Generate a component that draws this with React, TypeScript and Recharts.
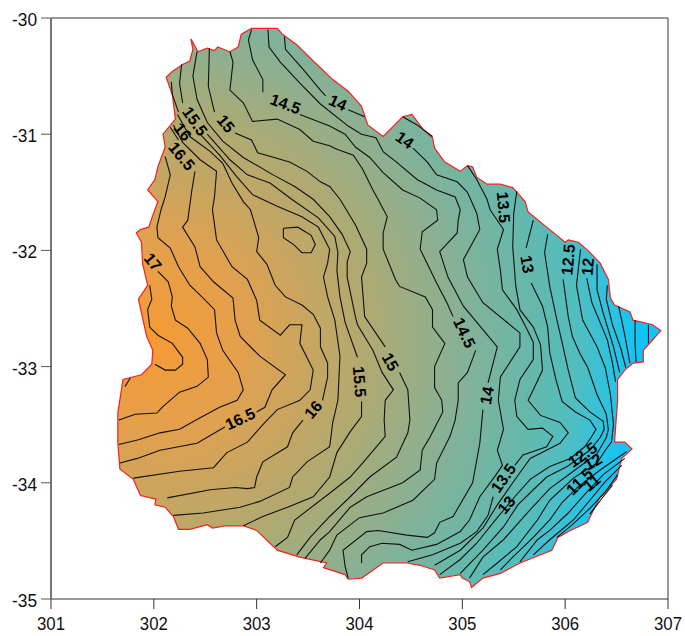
import { ScatterChart, Scatter, XAxis, YAxis } from "recharts";

type Pt = [number, number];

const lonTicks = [301, 302, 303, 304, 305, 306, 307];
const latTicks = [-30, -31, -32, -33, -34, -35];

// country outline, clockwise from the northwest tip
const outline: Pt[] = [
  [302.36, -30.18], [302.43, -30.29], [302.52, -30.26], [302.59, -30.28], [302.62, -30.25], [302.74, -30.29],
  [302.82, -30.25], [302.85, -30.14], [302.95, -30.09], [303.11, -30.09], [303.2, -30.09], [303.25, -30.14],
  [303.39, -30.23], [303.55, -30.37], [303.74, -30.53], [303.89, -30.63], [304.02, -30.76], [304.08, -30.92],
  [304.23, -31.02], [304.33, -30.93], [304.42, -30.85], [304.51, -30.83], [304.62, -30.96], [304.71, -31.03],
  [304.73, -31.12], [304.83, -31.24], [304.98, -31.32], [305.05, -31.27], [305.1, -31.28], [305.14, -31.37],
  [305.24, -31.43], [305.37, -31.43], [305.49, -31.46], [305.61, -31.58], [305.64, -31.67], [305.82, -31.8],
  [306.0, -31.93], [306.03, -31.91], [306.13, -31.93], [306.22, -32.0], [306.34, -32.11], [306.42, -32.25],
  [306.44, -32.41], [306.48, -32.47], [306.63, -32.53], [306.66, -32.6], [306.85, -32.64], [306.93, -32.69],
  [306.81, -32.81], [306.76, -32.86], [306.76, -32.96], [306.66, -32.97], [306.58, -33.03], [306.51, -33.11],
  [306.51, -33.29], [306.48, -33.65], [306.58, -33.65], [306.65, -33.71], [306.55, -33.79], [306.5, -33.97],
  [306.34, -34.12], [306.25, -34.28], [306.22, -34.34], [306.05, -34.41], [305.93, -34.47], [305.87, -34.58],
  [305.56, -34.69], [305.37, -34.78], [305.2, -34.82], [305.09, -34.9], [305.07, -34.85], [305.0, -34.82],
  [304.98, -34.79], [304.78, -34.82], [304.73, -34.75], [304.59, -34.71], [304.46, -34.69], [304.23, -34.69],
  [304.02, -34.82], [303.89, -34.83], [303.86, -34.79], [303.65, -34.73], [303.68, -34.69], [303.42, -34.64],
  [303.2, -34.58], [303.0, -34.41], [302.87, -34.37], [302.69, -34.37], [302.57, -34.39], [302.52, -34.36],
  [302.35, -34.4], [302.24, -34.4], [302.19, -34.29], [302.11, -34.21], [302.01, -34.19], [302.02, -34.14],
  [301.87, -34.11], [301.8, -33.97], [301.67, -33.88], [301.65, -33.66], [301.65, -33.4], [301.7, -33.11],
  [301.88, -33.07], [301.98, -32.98], [301.99, -32.86], [301.93, -32.74], [301.88, -32.54], [301.85, -32.42],
  [301.94, -32.3], [301.89, -32.11], [301.88, -31.93], [301.83, -31.85], [301.87, -31.82], [301.95, -31.8],
  [302.01, -31.65], [302.04, -31.58], [301.94, -31.48], [302.01, -31.39], [302.04, -31.28], [302.11, -31.11],
  [302.09, -31.0], [302.21, -30.87], [302.18, -30.66], [302.12, -30.51], [302.18, -30.46], [302.28, -30.4],
  [302.35, -30.37], [302.38, -30.27], [302.36, -30.18],
];

// closed ring north of the interior, around 303.4 / -31.85
const ringNorth: Pt[] = [
  [303.26, -31.81], [303.4, -31.8], [303.53, -31.87], [303.57, -31.95], [303.53, -32.02], [303.44, -32.02],
  [303.36, -31.95], [303.26, -31.89], [303.26, -31.81],
];

const west17Inner: Pt[] = [
  [301.96, -32.3], [301.98, -32.42], [301.94, -32.51], [301.96, -32.66], [302.04, -32.73], [302.18, -32.8],
  [302.28, -32.92], [302.28, -32.98], [302.21, -33.03], [302.11, -33.03], [302.01, -32.98],
];
const west17: Pt[] = [
  [302.04, -32.18], [302.14, -32.27], [302.18, -32.4], [302.17, -32.48], [302.21, -32.6], [302.33, -32.67],
  [302.45, -32.8], [302.52, -32.94], [302.53, -33.09], [302.42, -33.17], [302.25, -33.22], [302.08, -33.35],
  [302.03, -33.4], [301.82, -33.41], [301.66, -33.46],
];
const westCorner: Pt[] = [[301.77, -33.1], [301.72, -33.17]];
const west168: Pt[] = [
  [302.11, -31.19], [302.16, -31.35], [302.11, -31.54], [302.07, -31.65], [302.03, -31.8], [302.04, -31.89],
  [302.16, -31.98], [302.24, -32.14], [302.35, -32.3], [302.48, -32.41], [302.59, -32.51], [302.61, -32.71],
  [302.67, -32.86], [302.82, -33.05], [302.87, -33.2], [302.81, -33.29], [302.64, -33.35], [302.45, -33.44],
  [302.25, -33.54], [302.06, -33.57], [301.85, -33.63], [301.66, -33.67],
];
const line165a: Pt[] = [[302.16, -30.94], [302.24, -31.05]];
const line165b: Pt[] = [
  [302.4, -31.32], [302.37, -31.48], [302.33, -31.74], [302.28, -31.8], [302.4, -31.97], [302.45, -32.14],
  [302.58, -32.27], [302.77, -32.41], [302.79, -32.6], [302.84, -32.74], [303.03, -32.91], [303.28, -33.07],
  [303.15, -33.2], [303.08, -33.35], [303.0, -33.39],
];
const line165c: Pt[] = [
  [302.69, -33.52], [302.42, -33.66], [302.06, -33.72], [301.84, -33.79], [301.67, -33.83],
];
const line1625: Pt[] = [
  [302.19, -30.92], [302.28, -31.07], [302.45, -31.22], [302.61, -31.32], [302.59, -31.54], [302.57, -31.65],
  [302.61, -31.91], [302.76, -32.14], [302.91, -32.25], [303.0, -32.43], [303.03, -32.6], [303.23, -32.73],
  [303.32, -32.64], [303.44, -32.64], [303.42, -32.8], [303.55, -33.03], [303.52, -33.2], [303.42, -33.29],
  [303.2, -33.37], [303.06, -33.5], [302.91, -33.65], [302.71, -33.74], [302.58, -33.87], [302.25, -33.9],
  [301.8, -33.96],
];
const line16a: Pt[] = [
  [302.23, -30.83], [302.35, -31.02], [302.55, -31.15], [302.67, -31.25], [302.76, -31.42], [302.87, -31.58],
  [302.94, -31.65], [303.02, -31.89], [303.0, -32.01], [303.1, -32.12], [303.18, -32.3], [303.28, -32.4],
  [303.44, -32.47], [303.55, -32.55], [303.62, -32.67], [303.62, -32.83], [303.69, -32.97], [303.69, -33.09],
  [303.64, -33.29],
];
const line16b: Pt[] = [
  [303.45, -33.46], [303.35, -33.57], [303.3, -33.69], [303.06, -33.82], [303.0, -33.95], [302.98, -34.04],
  [302.91, -34.05], [302.79, -34.04], [302.55, -34.06], [302.13, -34.13],
];
const line1575a: Pt[] = [[302.17, -30.55], [302.18, -30.66], [302.24, -30.81]];
const line1575b: Pt[] = [
  [302.45, -31.0], [302.64, -31.18], [302.81, -31.37], [302.96, -31.52], [303.2, -31.62], [303.28, -31.65],
  [303.44, -31.71], [303.6, -31.8], [303.71, -31.99], [303.69, -32.11], [303.65, -32.23], [303.69, -32.4],
  [303.76, -32.6], [303.81, -32.91], [303.79, -33.29], [303.74, -33.48], [303.71, -33.69], [303.49, -33.82],
  [303.35, -33.95], [303.32, -34.04], [303.03, -34.16], [302.84, -34.21], [302.48, -34.26], [302.19, -34.28],
];
const line155a: Pt[] = [[302.27, -30.4], [302.25, -30.56], [302.28, -30.73]];
const line155b: Pt[] = [
  [302.52, -31.0], [302.74, -31.22], [302.91, -31.35], [303.13, -31.42], [303.34, -31.56], [303.6, -31.72],
  [303.76, -31.88], [303.79, -32.02], [303.78, -32.17], [303.81, -32.4], [303.86, -32.62], [303.98, -32.92],
];
const line155c: Pt[] = [
  [304.02, -33.3], [304.02, -33.43], [303.91, -33.56], [303.78, -33.74], [303.71, -33.95], [303.55, -34.12],
  [303.3, -34.21], [303.06, -34.29], [302.87, -34.37],
];
const line1525: Pt[] = [
  [302.42, -30.29], [302.38, -30.5], [302.42, -30.7], [302.52, -30.9], [302.67, -31.06], [302.87, -31.2],
  [303.16, -31.35], [303.37, -31.45], [303.55, -31.56], [303.71, -31.71], [303.83, -31.86], [303.91, -32.01],
  [303.88, -32.1], [303.88, -32.23], [303.96, -32.57], [303.98, -32.64], [304.13, -32.86], [304.22, -33.05],
  [304.33, -33.2], [304.25, -33.29], [304.24, -33.46], [304.25, -33.6], [304.03, -33.83], [303.91, -33.95],
  [303.71, -34.09], [303.37, -34.32], [303.3, -34.47], [303.18, -34.55],
];
const line15a: Pt[] = [[302.54, -30.26], [302.53, -30.59], [302.59, -30.81]];
const line15b: Pt[] = [
  [302.79, -30.99], [302.95, -31.05], [303.01, -31.16], [303.32, -31.24], [303.49, -31.32], [303.62, -31.41],
  [303.71, -31.45], [303.81, -31.56], [303.96, -31.78], [304.07, -31.99], [304.07, -32.11], [304.02, -32.23],
  [304.05, -32.57], [304.25, -32.83],
];
const line15c: Pt[] = [
  [304.39, -33.05], [304.47, -33.2], [304.49, -33.46], [304.47, -33.57], [304.36, -33.78], [304.1, -33.95],
  [303.91, -34.12], [303.71, -34.29], [303.52, -34.47], [303.39, -34.62],
];
const line1475: Pt[] = [
  [302.74, -30.29], [302.77, -30.38], [302.74, -30.62], [302.87, -30.73], [302.96, -30.89], [303.2, -30.87],
  [303.42, -30.96], [303.55, -31.06], [303.71, -31.1], [303.78, -31.13], [303.94, -31.18], [304.03, -31.3],
  [304.13, -31.48], [304.18, -31.56], [304.27, -31.71], [304.23, -31.85], [304.23, -31.99], [304.35, -32.25],
  [304.39, -32.31], [304.64, -32.4], [304.71, -32.51], [304.71, -32.66], [304.83, -32.8], [304.73, -33.0],
  [304.73, -33.18], [304.8, -33.29], [304.81, -33.39], [304.69, -33.6], [304.61, -33.72], [304.59, -33.89],
  [304.42, -34.0], [304.07, -34.12], [303.91, -34.21], [303.71, -34.42], [303.62, -34.49], [303.47, -34.65],
];
const line145a: Pt[] = [[302.95, -30.1], [302.92, -30.19], [302.96, -30.36], [303.06, -30.53], [303.06, -30.64]];
const line145b: Pt[] = [
  [303.42, -30.83], [303.71, -30.93], [303.86, -31.0], [303.96, -31.11], [304.1, -31.2], [304.23, -31.33],
  [304.42, -31.48], [304.59, -31.55], [304.75, -31.65], [304.76, -31.74], [304.61, -31.84], [304.59, -31.99],
  [304.75, -32.28], [304.85, -32.45], [304.91, -32.57],
];
const line145c: Pt[] = [
  [305.13, -32.86], [305.05, -33.05], [304.96, -33.14], [304.96, -33.29], [304.93, -33.46], [304.88, -33.6],
  [304.75, -33.83], [304.73, -33.97], [304.52, -34.15], [304.23, -34.26], [304.0, -34.3], [303.78, -34.45],
  [303.71, -34.58], [303.62, -34.69],
];
const line1425a: Pt[] = [
  [303.11, -30.1], [303.12, -30.25], [303.23, -30.38], [303.42, -30.56], [303.62, -30.74], [303.89, -30.93],
  [304.02, -31.0], [304.16, -31.03], [304.23, -31.15], [304.36, -31.24], [304.56, -31.39], [304.75, -31.48],
  [304.93, -31.54], [304.98, -31.65], [304.96, -31.74], [304.95, -31.85], [304.78, -32.01], [304.86, -32.23],
  [305.01, -32.48], [305.34, -32.83], [305.25, -33.14],
];
const line1425b: Pt[] = [
  [305.2, -33.37], [305.17, -33.66], [305.1, -34.0], [304.91, -34.29], [304.78, -34.34], [304.73, -34.43],
  [304.66, -34.47], [304.46, -34.45], [304.18, -34.41], [304.07, -34.42], [303.84, -34.58], [303.86, -34.72],
  [303.89, -34.82],
];
const north14a: Pt[] = [[303.27, -30.16], [303.28, -30.27], [303.45, -30.44], [303.62, -30.62], [303.67, -30.67]];
const north14b: Pt[] = [[303.89, -30.79], [304.05, -30.85]];
const northCoast: Pt[] = [[304.42, -30.85], [304.56, -30.92], [304.71, -31.02]];
const line14: Pt[] = [
  [304.52, -31.12], [304.66, -31.24], [304.75, -31.35], [304.95, -31.41], [305.05, -31.5], [305.14, -31.68],
  [305.17, -31.82], [305.01, -32.08], [305.05, -32.23], [305.2, -32.45], [305.56, -32.71], [305.56, -32.83],
  [305.37, -33.09], [305.35, -33.29], [305.4, -33.54], [305.34, -33.72], [305.39, -33.85], [305.32, -33.94],
  [305.17, -34.12], [305.07, -34.32], [304.98, -34.42], [304.75, -34.53], [304.51, -34.58], [304.39, -34.53],
  [304.22, -34.52], [304.1, -34.55], [304.02, -34.62], [304.02, -34.69],
];
const line135a: Pt[] = [
  [305.05, -31.27], [305.14, -31.39], [305.24, -31.56], [305.27, -31.65], [305.4, -31.82], [305.34, -31.99],
  [305.37, -32.17], [305.39, -32.34], [305.53, -32.51], [305.63, -32.68], [305.69, -32.79], [305.69, -32.94],
  [305.56, -33.11], [305.51, -33.29], [305.53, -33.43], [305.64, -33.54], [305.78, -33.53], [305.88, -33.6],
  [305.82, -33.69], [305.59, -33.76], [305.51, -33.85],
];
const line135b: Pt[] = [
  [305.3, -34.12], [305.25, -34.28], [305.14, -34.42], [304.98, -34.52], [304.71, -34.62], [304.47, -34.68],
];
const line1325: Pt[] = [
  [305.53, -31.49], [305.5, -31.68], [305.49, -31.97], [305.52, -32.31], [305.56, -32.51], [305.69, -32.66],
  [305.76, -32.81], [305.78, -33.03], [305.69, -33.2], [305.64, -33.29], [305.76, -33.42], [305.95, -33.48],
  [306.03, -33.57], [305.95, -33.66], [305.66, -33.79], [305.49, -34.0], [305.34, -34.19], [305.2, -34.39],
  [304.98, -34.58], [304.73, -34.71],
];
const line13a: Pt[] = [[305.69, -31.74], [305.62, -31.98]];
const line13b: Pt[] = [
  [305.67, -32.28], [305.78, -32.48], [305.83, -32.66], [305.85, -32.88], [305.91, -33.11], [305.97, -33.3],
  [306.1, -33.39], [306.24, -33.46], [306.3, -33.54], [306.26, -33.6], [306.19, -33.69], [306.05, -33.79],
  [305.85, -33.86], [305.66, -33.97], [305.51, -34.12], [305.34, -34.3], [305.14, -34.52], [304.98, -34.66],
  [304.78, -34.79],
];
const line1275: Pt[] = [
  [305.83, -31.86], [305.8, -32.02], [305.85, -32.31], [305.92, -32.6], [305.98, -32.83], [306.03, -33.03],
  [306.1, -33.27], [306.24, -33.39], [306.37, -33.47], [306.38, -33.54], [306.34, -33.61], [306.24, -33.72],
  [306.02, -33.86], [305.82, -33.95], [305.69, -34.06], [305.54, -34.19], [305.4, -34.38], [305.2, -34.58],
  [304.98, -34.78],
];
const line125: Pt[] = [
  [305.98, -32.25], [306.03, -32.57], [306.07, -32.74], [306.14, -32.88], [306.22, -33.01], [306.31, -33.24],
  [306.4, -33.41], [306.42, -33.54], [306.4, -33.61], [306.31, -33.75], [306.05, -33.92], [305.85, -34.05],
  [305.63, -34.26], [305.4, -34.49], [305.2, -34.64], [305.07, -34.82],
];
const line1225: Pt[] = [
  [306.15, -31.99], [306.11, -32.3], [306.17, -32.6], [306.31, -32.83], [306.39, -33.01], [306.44, -33.24],
  [306.47, -33.5], [306.45, -33.65], [306.39, -33.72], [306.31, -33.83], [306.08, -33.96], [305.85, -34.15],
  [305.73, -34.32], [305.53, -34.55], [305.34, -34.69], [305.2, -34.79],
];
const east12: Pt[] = [[306.21, -32.24], [306.26, -32.45], [306.41, -32.77], [306.46, -32.97], [306.49, -33.13]];
const east1175: Pt[] = [[306.31, -32.12], [306.31, -32.34], [306.37, -32.54], [306.47, -32.83], [306.53, -33.05]];
const east115: Pt[] = [[306.41, -32.3], [306.4, -32.42], [306.46, -32.64], [306.54, -32.84], [306.59, -33.01]];
const east1125: Pt[] = [[306.52, -32.48], [306.58, -32.73], [306.63, -32.97]];
const east11: Pt[] = [[306.68, -32.6], [306.68, -32.81], [306.69, -32.96]];
const east1075: Pt[] = [[306.81, -32.64], [306.81, -32.8]];
const south12: Pt[] = [
  [306.6, -33.73], [306.34, -33.89], [306.12, -34.04], [305.97, -34.17], [305.85, -34.32], [305.69, -34.47],
  [305.49, -34.64], [305.37, -34.75],
];
const south1175: Pt[] = [
  [306.58, -33.79], [306.37, -33.93], [306.19, -34.1], [306.03, -34.26], [305.85, -34.41], [305.73, -34.49],
  [305.56, -34.68],
];
const south115: Pt[] = [
  [306.55, -33.85], [306.39, -33.99], [306.24, -34.15], [306.08, -34.32], [305.85, -34.49], [305.69, -34.62],
];
const south1125: Pt[] = [[306.51, -33.93], [306.39, -34.08], [306.24, -34.22], [306.07, -34.36], [305.92, -34.47]];
const south11: Pt[] = [[306.46, -34.02], [306.37, -34.12], [306.24, -34.27]];

const contours: Pt[][] = [
  ringNorth, west17Inner, west17, westCorner, west168, line165a, line165b, line165c, line1625, line16a, line16b,
  line1575a, line1575b, line155a, line155b, line155c, line1525, line15a, line15b, line15c, line1475, line145a,
  line145b, line145c, line1425a, line1425b, north14a, north14b, northCoast, line14, line135a, line135b, line1325,
  line13a, line13b, line1275, line125, line1225, east12, east1175, east115, east1125, east11, east1075, south12,
  south1175, south115, south1125, south11,
];

const labelText = [
  "14.5", "14", "14", "13.5", "13", "12.5", "12", "15.5", "16", "16.5", "15", "17",
  "14.5", "15", "15.5", "16.5", "16", "14", "13.5", "13", "12.5", "12", "11.5", "11",
];
const labelLon = [
  303.28, 303.79, 304.44, 305.4, 305.63, 306.03, 306.22, 302.4, 302.28, 302.27, 302.7, 301.99,
  305.02, 304.3, 304.0, 302.84, 303.55, 305.24, 305.4, 305.43, 306.17, 306.27, 306.14, 306.26,
];
const labelLat = [
  -30.74, -30.73, -31.05, -31.63, -32.12, -32.08, -32.14, -30.89, -30.98, -31.19, -30.91, -32.1,
  -32.71, -32.96, -33.13, -33.45, -33.37, -33.25, -33.96, -34.19, -33.76, -33.82, -33.99, -34.0,
];
const labelAngle = [
  20, 25, 35, 85, 80, -85, -85, 55, 50, 50, 50, 50, 65, 60, 85, -25, -50, -80, -55, -50, -35, -30, -45, -40,
];

const toPoints = (pts: Pt[]) => pts.map(([lon, lat]) => ({ lon, lat }));
const labelPoints = labelText.map((text, i) => ({ lon: labelLon[i], lat: labelLat[i], text, angle: labelAngle[i] }));

const NoDot = () => null;

const ContourLabel = (props: any) => {
  const { cx, cy, payload } = props;
  return (
    <text
      x={cx}
      y={cy}
      transform={`rotate(${payload.angle} ${cx} ${cy})`}
      textAnchor="middle"
      dominantBaseline="central"
      fontFamily="Liberation Sans"
      fontWeight="bold"
      fontSize={16}
      fill="#000"
    >
      {payload.text}
    </text>
  );
};

const XTick = (props: any) => (
  <text
    x={props.x}
    y={props.y + 19}
    textAnchor="middle"
    fontFamily="Liberation Sans"
    fontSize={19}
    fill="#111"
    textLength={28}
    lengthAdjust="spacingAndGlyphs"
  >
    {props.payload.value}
  </text>
);

const YTick = (props: any) => (
  <text
    x={props.x - 2}
    y={props.y + 8}
    textAnchor="end"
    fontFamily="Liberation Sans"
    fontSize={19}
    fill="#111"
    textLength={25}
    lengthAdjust="spacingAndGlyphs"
  >
    {props.payload.value}
  </text>
);

const EmptyTick = () => <g />;

export default function App() {
  return (
    <div style={{ position: "absolute", left: 0, top: 0 }}>
      <ScatterChart width={685} height={636} margin={{ top: 0, right: 0, bottom: 0, left: 0 }}>
        <defs>
          <radialGradient id="landFill" gradientUnits="userSpaceOnUse" cx={150} cy={340} r={490}>
            <stop offset="0%" stopColor="#F59A33" />
            <stop offset="18%" stopColor="#E5A04C" />
            <stop offset="45%" stopColor="#AFAA72" />
            <stop offset="62%" stopColor="#8AB093" />
            <stop offset="80%" stopColor="#62B9AE" />
            <stop offset="88%" stopColor="#4FBEC2" />
            <stop offset="96%" stopColor="#22C4E8" />
            <stop offset="100%" stopColor="#10C4F5" />
          </radialGradient>
        </defs>
        <XAxis
          xAxisId={0}
          dataKey="lon"
          type="number"
          domain={[301, 307]}
          ticks={lonTicks}
          orientation="bottom"
          height={37}
          tickSize={10}
          stroke="#333"
          tick={XTick}
          interval={0}
          allowDataOverflow
        />
        <XAxis
          xAxisId="top"
          type="number"
          domain={[301, 307]}
          ticks={lonTicks}
          orientation="top"
          height={18}
          tickSize={10}
          stroke="#333"
          tick={EmptyTick}
          interval={0}
        />
        <YAxis
          yAxisId={0}
          dataKey="lat"
          type="number"
          domain={[-35, -30]}
          ticks={latTicks}
          orientation="left"
          width={51}
          tickSize={10}
          stroke="#555"
          axisLine={{ stroke: "#777", strokeWidth: 2 }}
          tick={YTick}
          interval={0}
          allowDataOverflow
        />
        <YAxis
          yAxisId="right"
          type="number"
          domain={[-35, -30]}
          ticks={latTicks}
          orientation="right"
          width={17}
          tickSize={10}
          stroke="#333"
          tick={EmptyTick}
          interval={0}
        />
        <Scatter
          data={toPoints(outline)}
          shape={NoDot}
          line={{ stroke: "#F5201C", strokeWidth: 1.2, fill: "url(#landFill)" }}
          isAnimationActive={false}
        />
        {contours.map((c, i) => (
          <Scatter
            key={i}
            data={toPoints(c)}
            shape={NoDot}
            line={{ stroke: "#111", strokeWidth: 1.1, fill: "none" }}
            isAnimationActive={false}
          />
        ))}
        <Scatter data={labelPoints} shape={ContourLabel} isAnimationActive={false} />
      </ScatterChart>
    </div>
  );
}
